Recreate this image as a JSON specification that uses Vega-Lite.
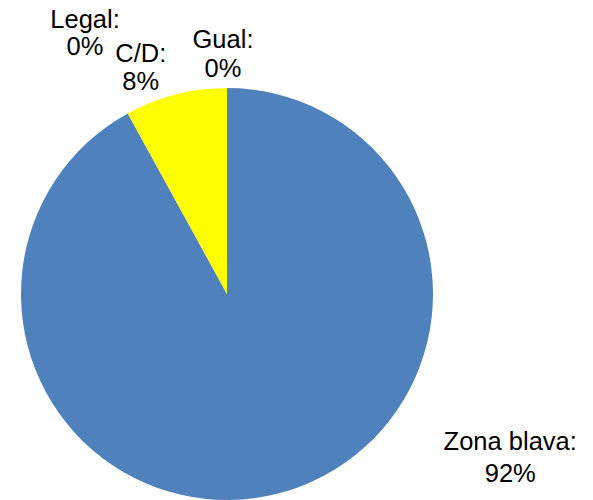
{
  "$schema": "https://vega.github.io/schema/vega-lite/v6.json",
  "autosize": "none",
  "width": 412,
  "height": 412,
  "padding": {"left": 21, "top": 88, "right": 160, "bottom": 0},
  "background": "white",
  "view": {"stroke": null},
  "config": {"text": {"font": "Liberation Sans", "fontSize": 25.5, "color": "black"}},
  "data": {
    "values": [
      {"name": "Zona blava", "pct": 92, "ord": 1},
      {"name": "C/D", "pct": 8, "ord": 2},
      {"name": "Legal", "pct": 0, "ord": 3},
      {"name": "Gual", "pct": 0, "ord": 4}
    ]
  },
  "transform": [
    {"calculate": "datum.name + ':\\n' + datum.pct + '%'", "as": "label"}
  ],
  "encoding": {
    "theta": {"field": "pct", "type": "quantitative", "stack": true},
    "order": {"field": "ord", "type": "quantitative"}
  },
  "layer": [
    {
      "mark": {"type": "arc", "outerRadius": 206},
      "encoding": {
        "color": {
          "field": "name",
          "type": "nominal",
          "scale": {"domain": ["Zona blava", "C/D", "Legal", "Gual"], "range": ["#4F81BD", "#FFFF00", "#C0504D", "#9BBB59"]},
          "legend": null
        }
      }
    },
    {
      "mark": {"type": "text", "radius": 206, "dx": 232, "dy": -44, "align": "center", "baseline": "alphabetic", "lineBreak": "\n", "lineHeight": 32},
      "encoding": {"text": {"condition": {"test": "datum.name === 'Zona blava'", "field": "label"}, "value": ""}}
    },
    {
      "mark": {"type": "text", "radius": 206, "dx": -35, "dy": -32, "align": "center", "baseline": "alphabetic", "lineBreak": "\n", "lineHeight": 28},
      "encoding": {"text": {"condition": {"test": "datum.name === 'C/D'", "field": "label"}, "value": ""}}
    },
    {
      "mark": {"type": "text", "radius": 206, "dx": -142, "dy": -60, "align": "center", "baseline": "alphabetic", "lineBreak": "\n", "lineHeight": 27},
      "encoding": {"text": {"condition": {"test": "datum.name === 'Legal'", "field": "label"}, "value": ""}}
    },
    {
      "mark": {"type": "text", "radius": 206, "dx": -4, "dy": -40, "align": "center", "baseline": "alphabetic", "lineBreak": "\n", "lineHeight": 29},
      "encoding": {"text": {"condition": {"test": "datum.name === 'Gual'", "field": "label"}, "value": ""}}
    }
  ]
}
